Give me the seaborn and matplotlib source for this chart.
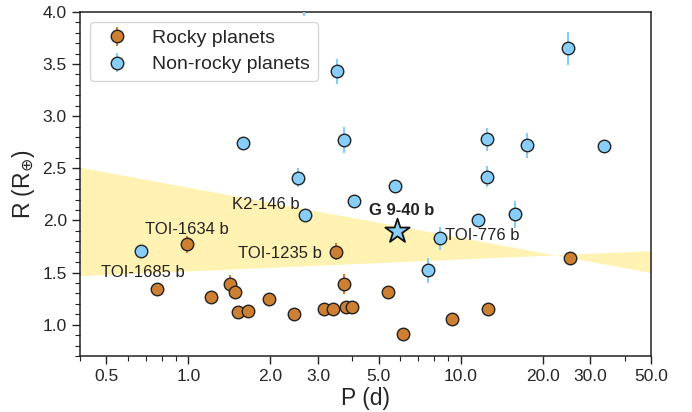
import matplotlib
matplotlib.use("Agg")
import matplotlib.pyplot as plt
import matplotlib.ticker as mticker
import seaborn as sns
import numpy as np

# rocky planets: period (d), radius (R_earth), radius error
rocky_P = [0.77, 0.99, 1.21, 1.42, 1.48, 1.52, 1.65, 1.97, 2.45, 3.16,
           3.40, 3.48, 3.73, 3.81, 4.00, 5.42, 6.17, 9.33, 12.56, 25.2]
rocky_R = [1.34, 1.77, 1.27, 1.39, 1.31, 1.12, 1.13, 1.25, 1.10, 1.15,
           1.15, 1.70, 1.39, 1.17, 1.17, 1.31, 0.91, 1.05, 1.15, 1.64]
rocky_err = [0.02, 0.08, 0.03, 0.09, 0.04, 0.03, 0.03, 0.03, 0.03, 0.03,
             0.03, 0.08, 0.095, 0.03, 0.03, 0.06, 0.03, 0.03, 0.04, 0.03]

# non-rocky planets
gas_P = [0.672, 1.59, 2.52, 2.68, 2.66, 3.53, 3.74, 4.06, 5.74, 7.57,
         8.38, 11.56, 12.48, 12.48, 15.9, 17.58, 24.7, 33.65]
gas_R = [1.71, 2.74, 2.41, 2.05, 4.12, 3.43, 2.77, 2.19, 2.33, 1.52,
         1.83, 2.00, 2.42, 2.78, 2.06, 2.72, 3.65, 2.71]
gas_err = [0.04, 0.03, 0.09, 0.03, 0.16, 0.12, 0.125, 0.05, 0.05, 0.12,
           0.11, 0.065, 0.10, 0.11, 0.13, 0.12, 0.16, 0.06]

# G 9-40 b
target_P = [5.82]
target_R = [1.90]

# radius valley band edges at P = 0.4 and 50 d
band_P = [0.4, 50.0]
band_a = [2.51, 1.50]
band_b = [1.47, 1.71]

xticks = [0.5, 1.0, 2.0, 3.0, 5.0, 10.0, 20.0, 30.0, 50.0]

sns.set_style("ticks")
plt.rcParams['font.family'] = ['Liberation Sans', 'DejaVu Sans']

rocky_col = "#CD7F32"
gas_col = "#87CEFA"

fig = plt.figure(figsize=(6.92, 4.12), dpi=100)
ax = fig.add_axes([0.1156, 0.136, 0.825, 0.835])

ax.fill_between(band_P, band_a, band_b, color="gold", alpha=0.3, lw=0, zorder=0)

ax.errorbar(rocky_P, rocky_R, yerr=rocky_err, fmt='o', ms=9, mfc=rocky_col,
            mec='#222222', mew=1.0, ecolor=rocky_col, elinewidth=1.5,
            capsize=0, label="Rocky planets", zorder=3)
ax.errorbar(gas_P, gas_R, yerr=gas_err, fmt='o', ms=9, mfc=gas_col,
            mec='#222222', mew=1.0, ecolor=gas_col, elinewidth=1.5,
            capsize=0, label="Non-rocky planets", zorder=3)

sns.scatterplot(x=target_P, y=target_R, marker='*', s=340, color=gas_col,
                edgecolor='#111111', linewidth=1.3, zorder=5, ax=ax, legend=False)

names = [("TOI-1685 b", gas_P[0], gas_R[0], (1, -15.5), 'center', 'normal'),
         ("TOI-1634 b", rocky_P[1], rocky_R[1], (0, 11), 'center', 'normal'),
         ("K2-146 b", gas_P[3], gas_R[3], (-4, 8), 'right', 'normal'),
         ("TOI-1235 b", rocky_P[11], rocky_R[11], (-10, -1.5), 'right', 'normal'),
         ("G 9-40 b", target_P[0], target_R[0], (4, 15), 'center', 'bold'),
         ("TOI-776 b", gas_P[10], gas_R[10], (4, 2), 'left', 'normal')]
for name, px, py, off, ha, fw in names:
    ax.annotate(name, (px, py), xytext=off, textcoords='offset points',
                ha=ha, va='center', fontsize=12, fontweight=fw, color='#222222')

ax.set_xscale('log')
ax.set_xlim(0.4, 50)
ax.set_ylim(0.7, 4.0)
ax.xaxis.set_major_locator(mticker.FixedLocator(xticks))
ax.xaxis.set_major_formatter(mticker.FixedFormatter([f"{t:.1f}" for t in xticks]))
ax.xaxis.set_minor_locator(mticker.LogLocator(base=10, subs=np.arange(2, 10) * 0.1 * 10 / 10, numticks=20))
ax.xaxis.set_minor_formatter(mticker.NullFormatter())
ax.yaxis.set_major_locator(mticker.MultipleLocator(0.5))
ax.yaxis.set_minor_locator(mticker.MultipleLocator(0.1))
ax.yaxis.set_major_formatter(mticker.FormatStrFormatter('%.1f'))

ax.tick_params(axis='both', which='major', labelsize=12.5, length=6, width=1, color='#222222')
ax.tick_params(axis='both', which='minor', length=3.5, width=0.8, color='#222222')
for s in ax.spines.values():
    s.set_color('#222222')
    s.set_linewidth(1.1)

ax.set_xlabel("P (d)", fontsize=16.5, labelpad=2)
ax.set_ylabel("R (R$_{\\oplus}$)", fontsize=16.5)

ax.legend(loc='upper left', fontsize=14, frameon=True, labelspacing=0.45)

fig.savefig("out.png", dpi=100)
